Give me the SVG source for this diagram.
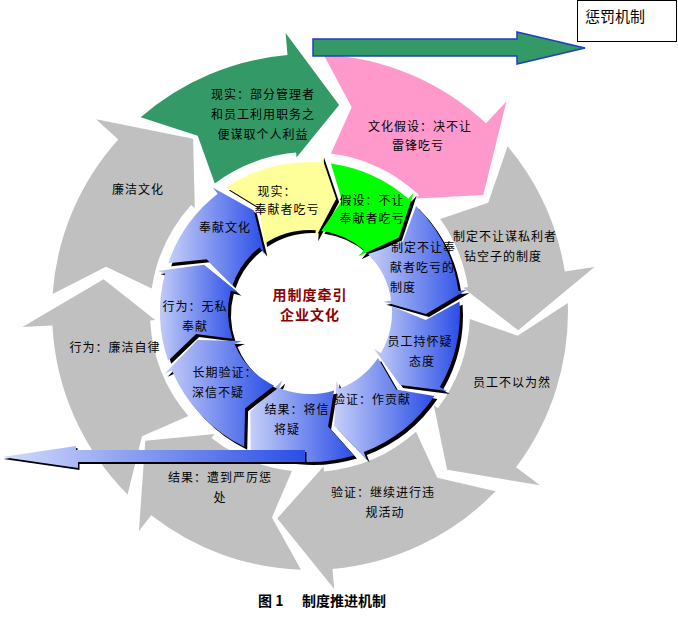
<svg xmlns="http://www.w3.org/2000/svg" width="678" height="618" viewBox="0 0 678 618">
<defs>
<linearGradient id="blue" x1="0" y1="0" x2="1" y2="0">
<stop offset="0" stop-color="#c6cff8"/>
<stop offset="1" stop-color="#2a4ee6"/>
</linearGradient>
<linearGradient id="hbar" x1="0" y1="0" x2="1" y2="0">
<stop offset="0" stop-color="#d4dcfa"/>
<stop offset="1" stop-color="#2a4ee6"/>
</linearGradient>
<style>
.gray{fill:#c0c0c0}
.sh{fill:#000}
.bl{fill:url(#blue)}
.t{font-family:"Noto Sans CJK SC","Noto Sans",sans-serif;font-size:12px;fill:#000;text-anchor:middle;letter-spacing:1px}
.ts{font-family:"Noto Sans CJK SC","Noto Sans",sans-serif;font-size:12px;fill:#000;text-anchor:start;letter-spacing:1px}
.c{font-family:"Noto Sans CJK SC","Noto Sans",sans-serif;font-size:14px;font-weight:bold;fill:#8b0000;text-anchor:middle;letter-spacing:1px}
</style>
</defs>
<rect width="678" height="618" fill="#fff"/>

<g id="outer-ring">
<path id="o-lianjie" class="gray" d="M52.6,294 A258,258 0 0 1 118.3,139.4 L96,119.3 L193.1,138.7 L194.8,208.3 L191.1,204.9 A160,160 0 0 0 151.8,288.4 L106,266.8 Z"/>
<path id="o-xianshi" fill="#339966" d="M140.7,117.3 A258,258 0 0 1 287.5,55 L285.6,33.1 L339.1,105 L296.5,157.6 L296.1,152.6 A160,160 0 0 0 214.8,183.4 L197.7,135.7 Z"/>
<path id="o-jiashe" fill="#ff99cc" d="M323.5,54.4 A258,258 0 0 1 486,123.3 L506.4,101.4 L483.3,195.1 L415.7,198.6 L419.1,195 A160,160 0 0 0 330.9,153.4 L351.7,107.2 Z"/>
<path id="o-zhiding" class="gray" d="M507.6,146.2 A258,258 0 0 1 564.8,271.6 L594.5,267 L518.2,330.2 L463.1,287.8 L468,287 A160,160 0 0 0 440.3,219.1 L488.2,202.8 Z"/>
<path id="o-yuangong" class="gray" d="M567.8,303 A258,258 0 0 1 516.1,467.3 L540,485.3 L447.1,469.7 L433.8,405.3 L437.8,408.3 A160,160 0 0 0 469.8,319 L517.7,335.7 Z"/>
<path id="o-yanzheng" class="gray" d="M495.6,491.2 A258,258 0 0 1 332.5,569 L334.2,588.9 L277.3,518.4 L323.5,466.4 L324,471.4 A160,160 0 0 0 416,431.8 L437.2,477.8 Z"/>
<path id="o-jieguo" class="gray" d="M301,569.8 A258,258 0 0 1 151.2,515.3 L138.9,531.1 L145.3,440.7 L214.6,434.1 L211.5,438.1 A160,160 0 0 0 291.9,471 L271.9,517.5 Z"/>
<path id="o-xingwei" class="gray" d="M127.6,494.4 A258,258 0 0 1 52.4,325.5 L22.4,327.1 L103.6,279.3 L155.2,320.1 L150.2,320.4 A160,160 0 0 0 188.3,415.9 L142,436.3 Z"/>
</g>

<g id="inner-ring">
<g id="i-xingwei">
<path class="sh" transform="translate(3,3)" d="M168.2,360.8 A150,150 0 0 1 165.1,273.2 L157.4,271.1 L204,264.8 L238.5,292.8 L230.8,290.8 A82,82 0 0 0 232.5,338.7 L196.1,334.1 Z"/>
<path class="bl" d="M168.2,360.8 A150,150 0 0 1 165.1,273.2 L157.4,271.1 L204,264.8 L238.5,292.8 L230.8,290.8 A82,82 0 0 0 232.5,338.7 L196.1,334.1 Z"/>
</g>
<g id="i-fengxian">
<path class="sh" transform="translate(3,3)" d="M168.2,263.2 A150,150 0 0 1 217.7,193.8 L212.7,187.5 L253.8,210.5 L264.4,253.7 L259.5,247.4 A82,82 0 0 0 232.5,285.3 L206.6,259.3 Z"/>
<path class="bl" d="M168.2,263.2 A150,150 0 0 1 217.7,193.8 L212.7,187.5 L253.8,210.5 L264.4,253.7 L259.5,247.4 A82,82 0 0 0 232.5,285.3 L206.6,259.3 Z"/>
</g>
<g id="i-xianshi">
<path class="sh" transform="translate(3,3)" d="M226.1,187.6 A150,150 0 0 1 320.5,162.4 L321,154.4 L336.1,199 L315.2,238.2 L315.7,230.2 A82,82 0 0 0 264.1,244 L259.1,207.7 Z"/>
<path fill="#ffff99" d="M226.1,187.6 A150,150 0 0 1 320.5,162.4 L321,154.4 L336.1,199 L315.2,238.2 L315.7,230.2 A82,82 0 0 0 264.1,244 L259.1,207.7 Z"/>
</g>
<g id="i-jiashe">
<path class="sh" transform="translate(3,3)" d="M330.9,163.5 A150,150 0 0 1 408.4,198.8 L413.7,192.8 L398.9,237.4 L358.5,256.2 L363.8,250.1 A82,82 0 0 0 321.4,230.8 L342,200.5 Z"/>
<path fill="#00ff00" d="M330.9,163.5 A150,150 0 0 1 408.4,198.8 L413.7,192.8 L398.9,237.4 L358.5,256.2 L363.8,250.1 A82,82 0 0 0 321.4,230.8 L342,200.5 Z"/>
</g>
<g id="i-zhiding">
<path class="sh" transform="translate(3,3)" d="M416.1,205.9 A150,150 0 0 1 458.5,291.1 L466.5,290 L426,314 L383.3,301.7 L391.2,300.6 A82,82 0 0 0 368,254 L402.6,242.2 Z"/>
<path class="bl" d="M416.1,205.9 A150,150 0 0 1 458.5,291.1 L466.5,290 L426,314 L383.3,301.7 L391.2,300.6 A82,82 0 0 0 368,254 L402.6,242.2 Z"/>
</g>
<g id="i-yuangong">
<path class="sh" transform="translate(3,3)" d="M459.6,301.5 A150,150 0 0 1 439.9,387 L446.8,391 L400.1,385 L374.1,349 L381,353 A82,82 0 0 0 391.8,306.3 L425.7,320.1 Z"/>
<path class="bl" d="M459.6,301.5 A150,150 0 0 1 439.9,387 L446.8,391 L400.1,385 L374.1,349 L381,353 A82,82 0 0 0 391.8,306.3 L425.7,320.1 Z"/>
</g>
<g id="i-yanzheng">
<path class="sh" transform="translate(3,3)" d="M434.4,395.9 A150,150 0 0 1 363.8,452 L366.6,459.5 L334.1,425.5 L336.5,381.1 L339.4,388.6 A82,82 0 0 0 378,357.9 L396.2,389.6 Z"/>
<path class="bl" d="M434.4,395.9 A150,150 0 0 1 363.8,452 L366.6,459.5 L334.1,425.5 L336.5,381.1 L339.4,388.6 A82,82 0 0 0 378,357.9 L396.2,389.6 Z"/>
</g>
<g id="i-jieguo">
<path class="sh" transform="translate(3,3)" d="M353.9,455.4 A150,150 0 0 1 253.8,451.1 L250.8,458.5 L250.3,411.4 L282.3,380.6 L279.3,388 A82,82 0 0 0 334,390.4 L328.1,426.6 Z"/>
<path class="bl" d="M353.9,455.4 A150,150 0 0 1 253.8,451.1 L250.8,458.5 L250.3,411.4 L282.3,380.6 L279.3,388 A82,82 0 0 0 334,390.4 L328.1,426.6 Z"/>
</g>
<g id="i-changqi">
<path class="sh" transform="translate(3,3)" d="M244.2,446.8 A150,150 0 0 1 171.9,370.6 L164.6,373.7 L197.4,340.1 L241.9,340.9 L234.5,344 A82,82 0 0 0 274.1,385.7 L245.1,408.2 Z"/>
<path class="bl" d="M244.2,446.8 A150,150 0 0 1 171.9,370.6 L164.6,373.7 L197.4,340.1 L241.9,340.9 L234.5,344 A82,82 0 0 0 274.1,385.7 L245.1,408.2 Z"/>
</g>
</g>

<g id="connectors">
<g id="arrow-top">
<path d="M313,39 L517,39 L517,32 L585,48 L517,64 L517,56 L313,56 Z" fill="#339966" stroke="#1f3fbf" stroke-width="1.5"/>
</g>
<g id="arrow-bottom">
<path d="M305,450 L76,450 L76,446 L2,457 L78,468 L78,462 L305,462 Z" fill="#000" transform="translate(1.5,2)"/>
<path d="M305,450 L76,450 L76,446 L2,457 L78,468 L78,462 L305,462 Z" fill="url(#hbar)"/>
</g>
</g>

<g id="box-chengfa">
<rect x="577.5" y="0.5" width="99" height="41" fill="#fff" stroke="#000" stroke-width="1"/>
<text x="585" y="22" font-family="Noto Sans CJK SC, sans-serif" font-size="15" fill="#000">惩罚机制</text>
</g>

<g id="labels-outer">
<text class="t" x="263" y="99">现实：部分管理者</text>
<text class="t" x="263" y="119">和员工利用职务之</text>
<text class="t" x="263" y="139">便谋取个人利益</text>
<text class="t" x="420" y="131">文化假设：决不让</text>
<text class="t" x="418" y="150">雷锋吃亏</text>
<text class="t" x="505" y="241">制定不让谋私利者</text>
<text class="t" x="503" y="261">钻空子的制度</text>
<text class="t" x="512" y="387">员工不以为然</text>
<text class="t" x="383" y="497">验证：继续进行违</text>
<text class="t" x="385" y="517">规活动</text>
<text class="t" x="220" y="482">结果：遭到严厉惩</text>
<text class="t" x="220" y="502">处</text>
<text class="t" x="115" y="352">行为：廉洁自律</text>
<text class="t" x="138" y="194">廉洁文化</text>
</g>

<g id="labels-inner">
<text class="t" x="225" y="232">奉献文化</text>
<text class="t" x="277" y="196">现实：</text>
<text class="t" x="287" y="214">奉献者吃亏</text>
<text class="t" x="372" y="205">假设：不让</text>
<text class="t" x="372" y="223">奉献者吃亏</text>
<text class="ts" x="391" y="252">制定不让奉</text>
<text class="ts" x="390" y="272">献者吃亏的</text>
<text class="ts" x="390" y="292">制度</text>
<text class="t" x="420" y="346">员工持怀疑</text>
<text class="t" x="422" y="366">态度</text>
<text class="t" x="372" y="404">验证：作贡献</text>
<text class="t" x="297" y="414">结果：将信</text>
<text class="t" x="287" y="434">将疑</text>
<text class="t" x="225" y="377">长期验证：</text>
<text class="t" x="218" y="397">深信不疑</text>
<text class="t" x="195" y="311">行为：无私</text>
<text class="t" x="195" y="331">奉献</text>
</g>

<g id="center">
<text class="c" x="310" y="300">用制度牵引</text>
<text class="c" x="310" y="320">企业文化</text>
</g>

<g id="caption">
<text x="258" y="606" font-family="Noto Sans CJK SC, sans-serif" font-size="14" font-weight="bold" fill="#000">图 1</text>
<text x="302" y="606" font-family="Noto Sans CJK SC, sans-serif" font-size="14" font-weight="bold" fill="#000">制度推进机制</text>
</g>
</svg>
